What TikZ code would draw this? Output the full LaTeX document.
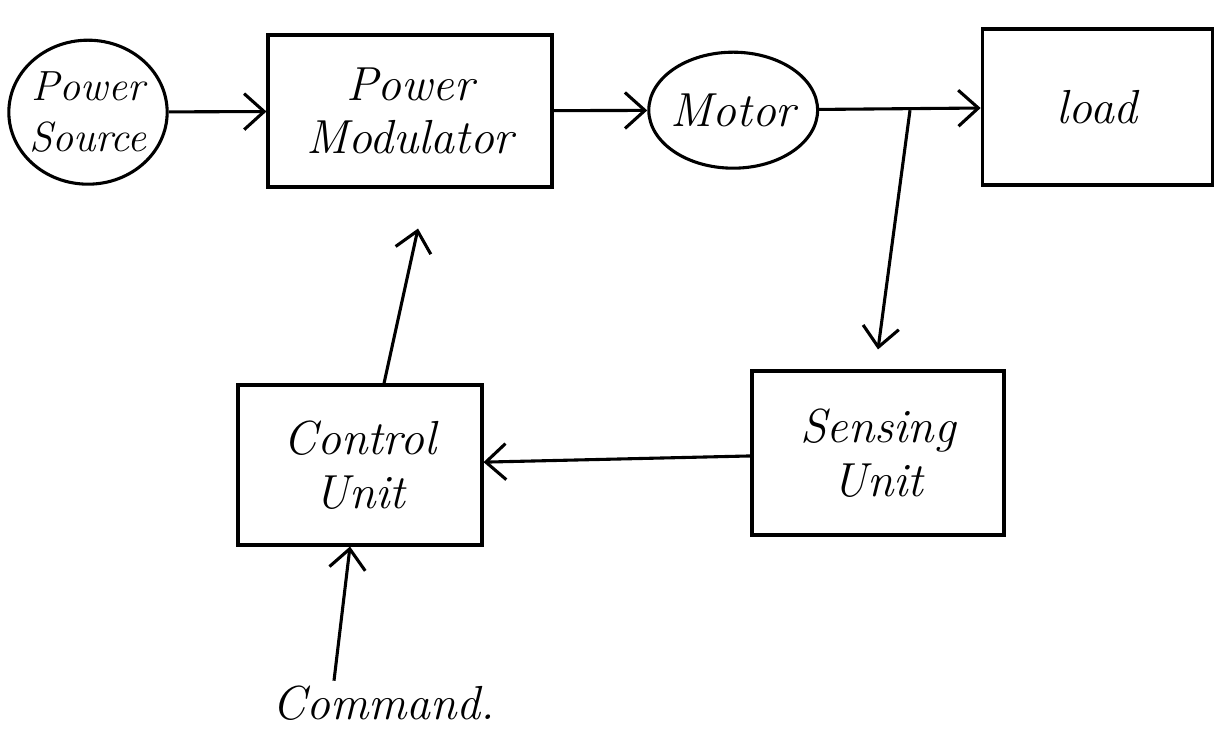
\documentclass[tikz,border=0pt]{standalone}
\usepackage{tikz}
\usetikzlibrary{arrows.meta, shapes.geometric}

\begin{document}
\begin{tikzpicture}[
    every node/.style={font=\fontsize{34}{38}\selectfont\itshape, align=center},
    blockbox/.style={draw, line width=2.2pt, minimum width=#1, inner sep=0pt},
    roundbox/.style={draw, ellipse, line width=2.2pt, inner sep=-2pt},
    flow/.style={line width=2.2pt, -{Straight Barb[length=5mm, width=9mm, line width=2.2pt]}}
]
    \useasboundingbox (0, 0) rectangle (30.525, 18.325);

    % Blocks of the drive
    \node[roundbox, minimum width=3.95cm, minimum height=3.6cm,
          font=\fontsize{30}{36}\selectfont\itshape] (source) at (2.2, 15.52) {Power\\Source};
    \node[blockbox=7.1cm, minimum height=3.8cm] (modulator) at (10.25, 15.55) {Power\\Modulator};
    \node[roundbox, minimum width=3.9cm, minimum height=2.9cm] (motor) at (18.33, 15.57) {Motor};
    \node[blockbox=5.75cm, minimum height=3.9cm] (load) at (27.43, 15.65) {load};
    \node[blockbox=6.3cm, minimum height=4.1cm] (sensing) at (21.95, 7.0) {Sensing\\Unit};
    \node[blockbox=6.1cm, minimum height=4.0cm] (control) at (9.0, 6.7) {Control\\Unit};
    \node (command) at (9.6, 0.75) {Command.};

    % Tap on the motor shaft line
    \coordinate (tap) at (22.75, 15.57);

    % Forward path
    \draw[flow] (source) -- (modulator);   % source to modulator
    \draw[flow] (modulator) -- (motor);    % modulator to motor
    \draw[flow] (motor) -- (load);         % motor to load

    % Feedback path
    \draw[flow] (tap) -- ([yshift=0.5cm]sensing.north);   % shaft to sensor
    \draw[flow] (sensing) -- (control);                    % sensor to control
    \draw[flow] ([xshift=0.6cm]control.north) -- ([xshift=0.2cm, yshift=-1cm]modulator.south); % control to modulator
    \draw[flow] ([xshift=-1.25cm]command.north) -- ([xshift=-0.25cm]control.south);             % command input

\end{tikzpicture}
\end{document}
